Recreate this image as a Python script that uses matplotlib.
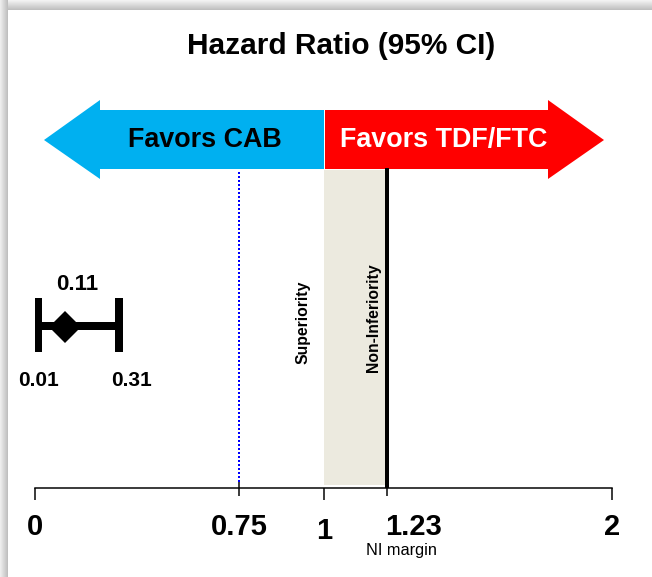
import numpy as np
import matplotlib
matplotlib.use('Agg')
import matplotlib.pyplot as plt
from matplotlib.patches import Polygon, Rectangle

plt.rcParams['font.family'] = ['Liberation Sans', 'DejaVu Sans']

# ---------------- data ----------------
title = "Hazard Ratio (95% CI)"
favor_left = "Favors CAB"
favor_right = "Favors TDF/FTC"
hr_point = 0.11
hr_lower = 0.01
hr_upper = 0.31
superiority_bound = 1.0
ni_margin = 1.23
ref_line = 0.75
tick_values = [0, 0.75, 1, 1.23, 2]
tick_labels = ['0', '0.75', '1', '1.23', '2']
major_ticks = [0, 1, 2]
minor_ticks = [0.75, 1.23]
region_labels = ['Superiority', 'Non-Inferiority']
ni_label = 'NI margin'

# ---------------- layout helpers ----------------
W, H, DPI = 652, 577, 100


def pt(px):
    return px * 72.0 / DPI


# piecewise axis scale (the reference axis is not drawn to a linear scale)
scale_vals = [-1, 0, 0.75, 1, 1.23, 2, 3]
scale_pos = [-272, 0, 204, 289, 352, 577, 870]


def fwd(v):
    return np.interp(v, scale_vals, scale_pos)


def inv(p):
    return np.interp(p, scale_pos, scale_vals)


fig = plt.figure(figsize=(W / DPI, H / DPI), dpi=DPI)
fig.patch.set_facecolor('white')

# overlay axes in pixel coordinates for decorations
pax = fig.add_axes([0, 0, 1, 1])
pax.set_xlim(0, W)
pax.set_ylim(H, 0)
pax.axis('off')

# window shadow (top and left)
for i in range(10):
    g = 0.95 - 0.20 * (i / 9.0)
    pax.add_patch(Rectangle((0, i), W, 1.05, facecolor=str(g), lw=0))
for i in range(8):
    g = 0.93 - 0.18 * (i / 7.0)
    pax.add_patch(Rectangle((i, 0), 1.05, H, facecolor=str(g), lw=0))

# title
pax.text(341, 46, title, ha='center', va='center', fontsize=21.5, fontweight='bold')

# favour arrows
blue = [(44, 140), (100, 100), (100, 110), (324, 110), (324, 169), (100, 169), (100, 179)]
red = [(604, 140), (548, 100), (548, 110), (325, 110), (325, 169), (548, 169), (548, 179)]
pax.add_patch(Polygon(blue, closed=True, facecolor='#00B0F0', edgecolor='none'))
pax.add_patch(Polygon(red, closed=True, facecolor='#FF0000', edgecolor='none'))
pax.text(205, 140, favor_left, ha='center', va='center', fontsize=19.4,
         fontweight='bold', color='black')
pax.text(444, 140, favor_right, ha='center', va='center', fontsize=19.4,
         fontweight='bold', color='white')

# ---------------- main axes ----------------
ax = fig.add_axes([35 / W, (H - 488) / H, 577 / W, 488 / H])
ax.set_xscale('function', functions=(fwd, inv))
ax.set_xlim(0, 2)
ax.set_ylim(488, 0)
ax.patch.set_alpha(0)
for s in ['top', 'left', 'right']:
    ax.spines[s].set_visible(False)
ax.spines['bottom'].set_linewidth(pt(1.5))
ax.set_yticks([])
ax.set_xticks(major_ticks)
ax.set_xticks(minor_ticks, minor=True)
ax.tick_params(axis='x', which='major', direction='out', length=pt(12),
               width=pt(1.5), labelbottom=False)
ax.tick_params(axis='x', which='minor', direction='inout', length=pt(16),
               width=pt(1.5), labelbottom=False)

# tick labels
for v, lab in zip(tick_values, tick_labels):
    if lab == '1.23':
        ax.annotate(lab, xy=(v, 527), xytext=(pt(-2), 0), textcoords='offset points',
                    ha='left', va='center', fontsize=21, fontweight='bold',
                    annotation_clip=False)
    else:
        y = 531 if lab == '1' else 527
        ax.text(v, y, lab, ha='center', va='center', fontsize=21,
                fontweight='bold', clip_on=False)

ax.annotate(ni_label, xy=(ni_margin, 551), xytext=(pt(14), 0), textcoords='offset points',
            ha='center', va='center', fontsize=11.8, annotation_clip=False)

# shaded non-inferiority zone
ax.fill_betweenx([170, 485], superiority_bound, ni_margin, color='#ECEADF', lw=0, zorder=1)
# NI margin line
ax.vlines(ni_margin, 168, 488, colors='black', lw=pt(4), zorder=3)
# reference dotted line
ax.vlines(ref_line, 172, 484, colors='#0000FF', lw=pt(2), linestyles=(0, (1, 1)), zorder=3)

# region labels
ax.annotate(region_labels[0], xy=(superiority_bound, 322), xytext=(pt(-21), 0),
            textcoords='offset points', rotation=90, ha='center', va='center',
            fontsize=11.3, fontweight='bold')
ax.annotate(region_labels[1], xy=(ni_margin, 318), xytext=(pt(-13), 0),
            textcoords='offset points', rotation=90, ha='center', va='center',
            fontsize=11.3, fontweight='bold')

# hazard ratio with CI
ax.plot([hr_lower, hr_upper], [326, 326], color='black', lw=pt(8),
        solid_capstyle='butt', zorder=4)
ax.vlines([hr_lower, hr_upper], 298, 352, colors='black', lw=pt(8), zorder=4)
ax.plot([hr_point], [327], marker='D', ms=16, color='black', mew=0, zorder=5)

ax.annotate(f'{hr_point:.2f}', xy=(hr_point, 284), xytext=(pt(12), 0),
            textcoords='offset points', ha='center', va='center',
            fontsize=16, fontweight='bold')
ax.annotate(f'{hr_lower:.2f}', xy=(hr_lower, 381), xytext=(pt(1), 0),
            textcoords='offset points', ha='center', va='center',
            fontsize=15, fontweight='bold')
ax.annotate(f'{hr_upper:.2f}', xy=(hr_upper, 381), xytext=(pt(12), 0),
            textcoords='offset points', ha='center', va='center',
            fontsize=15, fontweight='bold')

fig.savefig('out.png', dpi=DPI)
